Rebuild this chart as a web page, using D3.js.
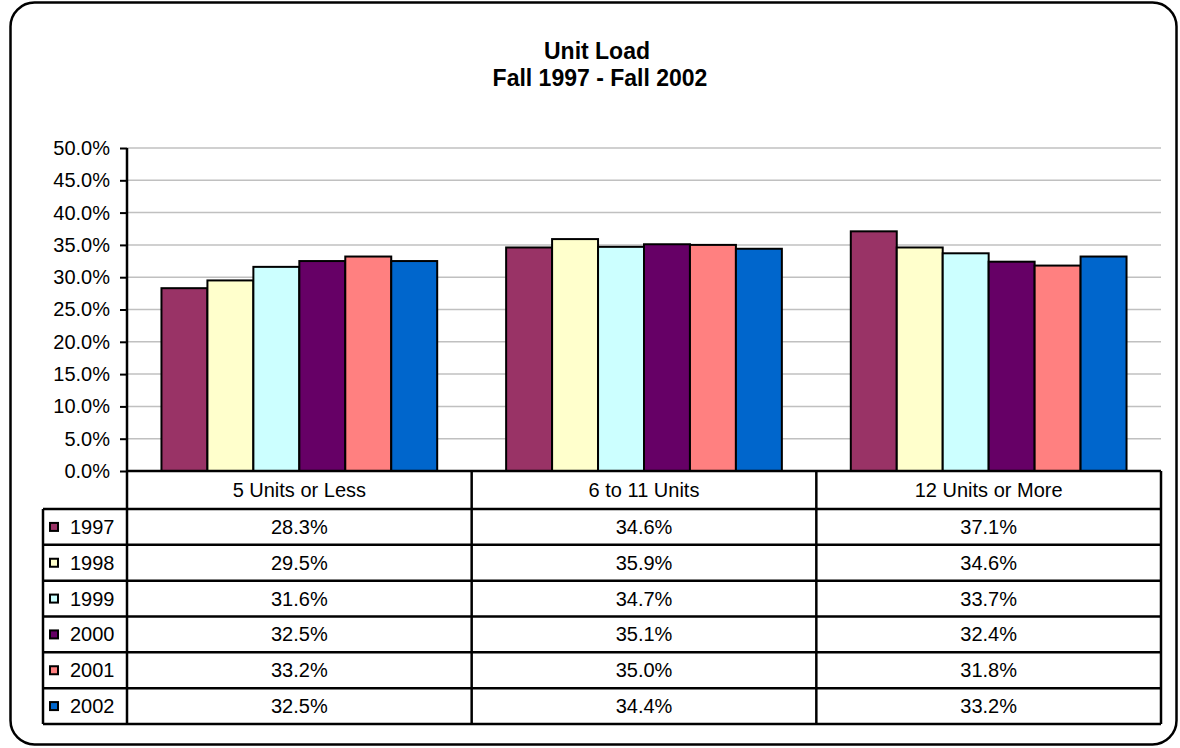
<!DOCTYPE html>
<html>
<head>
<meta charset="utf-8">
<script src="https://cdn.jsdelivr.net/npm/d3@7"></script>
<style>
  html, body { margin: 0; padding: 0; background: #fff; }
  svg { display: block; font-family: "Liberation Sans", Arial, sans-serif; }
</style>
</head>
<body>
<div id="chart"></div>
<script>
const categories = ["5 Units or Less", "6 to 11 Units", "12 Units or More"];
const years = ["1997", "1998", "1999", "2000", "2001", "2002"];
const colors = ["#993366", "#FFFFCC", "#CCFFFF", "#660066", "#FF8080", "#0066CC"];
const values = [
    [28.3, 34.6, 37.1],
    [29.5, 35.9, 34.6],
    [31.6, 34.7, 33.7],
    [32.5, 35.1, 32.4],
    [33.2, 35.0, 31.8],
    [32.5, 34.4, 33.2]
];
const yTicks = [0, 5, 10, 15, 20, 25, 30, 35, 40, 45, 50];

const W = 1180, H = 748;
const plot = { left: 127, right: 1161, top: 148, bottom: 471 };
const table = { left: 43, headerBottom: 509, bottom: 724 };

const svg = d3.select("#chart").append("svg")
    .attr("width", W)
    .attr("height", H);

// outer frame
svg.append("rect")
    .attr("x", 10.5).attr("y", 2.5)
    .attr("width", 1166).attr("height", 742)
    .attr("rx", 24).attr("ry", 24)
    .attr("fill", "#fff")
    .attr("stroke", "#000")
    .attr("stroke-width", 2.5);

// title
svg.append("text")
    .attr("x", 597).attr("y", 59)
    .attr("text-anchor", "middle")
    .style("font-size", "23px").style("font-weight", "bold")
    .text("Unit Load");
svg.append("text")
    .attr("x", 600).attr("y", 86)
    .attr("text-anchor", "middle")
    .style("font-size", "23px").style("font-weight", "bold")
    .text("Fall 1997 - Fall 2002");

// scales
const x0 = d3.scaleBand()
    .domain(categories)
    .range([plot.left, plot.right]);

const barW = x0.bandwidth() / 7.5;
const x1 = d3.scaleBand()
    .domain(years)
    .range([barW * 0.75, x0.bandwidth() - barW * 0.75]);

const y = d3.scaleLinear()
    .domain([0, 50])
    .range([plot.bottom, plot.top]);

// gridlines
svg.append("g")
    .selectAll("line")
    .data(yTicks.filter(d => d > 0))
    .enter()
    .append("line")
    .attr("x1", plot.left).attr("x2", plot.right)
    .attr("y1", d => y(d)).attr("y2", d => y(d))
    .attr("stroke", "#c0c0c0")
    .attr("stroke-width", 1.5);

// y axis
const yAxis = svg.append("g")
    .attr("transform", `translate(${plot.left},0)`)
    .call(d3.axisLeft(y).tickValues(yTicks).tickSize(7).tickPadding(10)
        .tickFormat(d => d.toFixed(1) + "%"));
yAxis.select(".domain").remove();
yAxis.selectAll(".tick line").attr("stroke", "#000").attr("stroke-width", 2);
yAxis.selectAll(".tick text")
    .style("font-size", "20px")
    .style("font-family", "'Liberation Sans', Arial, sans-serif")
    .attr("fill", "#000");

// bars
const groups = svg.append("g")
    .selectAll("g")
    .data(years)
    .enter()
    .append("g")
    .attr("fill", (d, i) => colors[i]);

groups.selectAll("rect")
    .data((yr, i) => values[i].map((v, j) => ({ yr, cat: categories[j], v })))
    .enter()
    .append("rect")
    .attr("x", d => x0(d.cat) + x1(d.yr))
    .attr("y", d => y(d.v))
    .attr("width", x1.bandwidth())
    .attr("height", d => y(0) - y(d.v))
    .attr("stroke", "#000")
    .attr("stroke-width", 2);

// data table
const rows = d3.scaleBand()
    .domain(years)
    .range([table.headerBottom, table.bottom]);

const lines = svg.append("g")
    .attr("stroke", "#000")
    .attr("stroke-width", 2.5);

// axis line / table divider at plot left
lines.append("line")
    .attr("x1", plot.left).attr("x2", plot.left)
    .attr("y1", plot.top).attr("y2", table.bottom);
// zero line / header top
lines.append("line")
    .attr("x1", plot.left).attr("x2", plot.right)
    .attr("y1", y(0)).attr("y2", y(0));
// right edge
lines.append("line")
    .attr("x1", plot.right).attr("x2", plot.right)
    .attr("y1", y(0)).attr("y2", table.bottom);
// left edge of legend column
lines.append("line")
    .attr("x1", table.left).attr("x2", table.left)
    .attr("y1", table.headerBottom).attr("y2", table.bottom);
// category dividers
lines.selectAll(".cat-div")
    .data(categories.slice(1))
    .enter()
    .append("line")
    .attr("x1", d => x0(d)).attr("x2", d => x0(d))
    .attr("y1", y(0)).attr("y2", table.bottom);
// row lines
lines.selectAll(".row-line")
    .data(years.concat(["end"]))
    .enter()
    .append("line")
    .attr("x1", table.left).attr("x2", plot.right)
    .attr("y1", (d, i) => i < years.length ? rows(d) : table.bottom)
    .attr("y2", (d, i) => i < years.length ? rows(d) : table.bottom);

// header labels
svg.append("g")
    .selectAll("text")
    .data(categories)
    .enter()
    .append("text")
    .attr("x", d => x0(d) + x0.bandwidth() / 2)
    .attr("y", (y(0) + table.headerBottom) / 2 + 7)
    .attr("text-anchor", "middle")
    .style("font-size", "20px")
    .text(d => d);

// legend keys + year labels
const rowG = svg.append("g")
    .selectAll("g")
    .data(years)
    .enter()
    .append("g")
    .attr("transform", d => `translate(0,${rows(d) + rows.bandwidth() / 2})`);

rowG.append("rect")
    .attr("x", 50).attr("y", -4)
    .attr("width", 8).attr("height", 8)
    .attr("fill", (d, i) => colors[i])
    .attr("stroke", "#000")
    .attr("stroke-width", 2);

rowG.append("text")
    .attr("x", 70).attr("y", 7)
    .style("font-size", "20px")
    .text(d => d);

rowG.selectAll(".val")
    .data((yr, i) => values[i].map((v, j) => ({ v, cat: categories[j] })))
    .enter()
    .append("text")
    .attr("x", d => x0(d.cat) + x0.bandwidth() / 2)
    .attr("y", 7)
    .attr("text-anchor", "middle")
    .style("font-size", "20px")
    .text(d => d.v.toFixed(1) + "%");
</script>
</body>
</html>
